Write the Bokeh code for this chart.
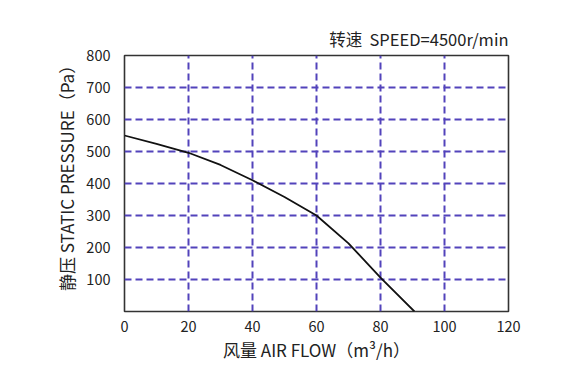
from bokeh.plotting import figure
from bokeh.models import FixedTicker, Range1d, Title
from bokeh.embed import file_html
from bokeh.resources import INLINE

flow = [0, 10, 20, 30, 40, 50, 60, 70, 80, 90.6]
pressure = [550, 524, 496, 458, 410, 358, 300, 213, 106, 0]
x_ticks = [0, 20, 40, 60, 80, 100, 120]
y_ticks = [100, 200, 300, 400, 500, 600, 700, 800]
title_text = "转速\u00a0\u00a0SPEED=4500r/min"
x_label = "风量\u00a0AIR FLOW（m³/h）"
y_label = "\u00a0\u00a0\u00a0\u00a0\u00a0静压 STATIC PRESSURE（Pa）"

FONT = "Noto Sans CJK SC"

p = figure(width=580, height=390, output_backend="svg", toolbar_location=None,
           x_range=Range1d(0, 120), y_range=Range1d(0, 800),
           min_border_left=124, min_border_right=72, min_border_top=55, min_border_bottom=79)
p.title = Title(text=title_text, align="right", text_font=FONT, text_font_size="16.5px",
                text_font_style="normal", text_color="#222222", offset=0, standoff=9)

p.line(flow, pressure, line_color="#111111", line_width=1.8)

for ax in (p.xaxis, p.yaxis):
    ax.axis_line_color = None
    ax.major_tick_line_color = None
    ax.minor_tick_line_color = None
    ax.major_label_text_font = FONT
    ax.major_label_text_font_size = "14.5px"
    ax.major_label_text_color = "#222222"
    ax.axis_label_text_font = FONT
    ax.axis_label_text_font_size = "17px"
    ax.axis_label_text_font_style = "normal"
    ax.axis_label_text_color = "#222222"

p.xaxis.ticker = FixedTicker(ticks=x_ticks)
p.yaxis.ticker = FixedTicker(ticks=y_ticks)
p.xaxis.axis_label = x_label
p.yaxis.axis_label = y_label
p.xaxis.major_label_standoff = 3
p.yaxis.major_label_standoff = 8
p.xaxis.axis_label_standoff = 2
p.yaxis.axis_label_standoff = 4

p.xgrid.ticker = FixedTicker(ticks=[20, 40, 60, 80, 100])
p.ygrid.ticker = FixedTicker(ticks=[100, 200, 300, 400, 500, 600, 700])
for g in (p.xgrid, p.ygrid):
    g.grid_line_color = "#5243bb"
    g.grid_line_width = 2
    g.grid_line_dash = "7 4"

p.outline_line_color = "#333333"
p.outline_line_width = 1.6
p.background_fill_color = "white"
p.border_fill_color = "white"

open("out.html", "w").write(file_html(p, INLINE))
